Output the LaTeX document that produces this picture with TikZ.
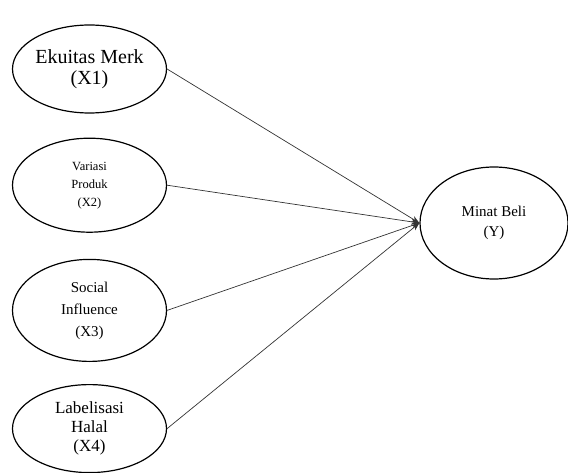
\documentclass[tikz,border=0pt]{standalone}
\usepackage{fontspec}
\setmainfont{Liberation Serif}
\usepackage{tikz}
\usetikzlibrary{shapes.geometric, positioning, arrows.meta}
\tikzset{
	->,
	>={Stealth[length=8pt, width=6pt]},
	node distance=25pt,
	align=center,
	every edge/.style={draw, line width=0.7pt, black!80},
	variabel/.style={ellipse, draw, line width=1.2pt, minimum width=154pt, minimum height=88pt, inner sep=0pt}
}

\begin{document}
\begin{tikzpicture}[x=1pt, y=1pt]
	\useasboundingbox (0,0) rectangle (568,472);
	\node[variabel, font=\fontsize{20}{21}\selectfont] (x1) at (89.5,403) {Ekuitas Merk\\(X1)};
	\node[variabel, below=24pt of x1, minimum height=94pt, font=\fontsize{12.5}{18}\selectfont] (x2) {Variasi\\Produk\\(X2)};
	\node[variabel, below=26pt of x2, minimum height=102pt, font=\fontsize{15}{22}\selectfont] (x3) {Social\\Influence\\(X3)};
	\node[variabel, below=22pt of x3, font=\fontsize{17}{19}\selectfont] (x4) {Labelisasi\\Halal\\(X4)};
	\node[variabel, minimum width=148pt, minimum height=112pt, font=\fontsize{15}{20}\selectfont] (y) at (494,249) {Minat Beli\\(Y)};
	\path
%	pengaruh ke minat beli
	(x1.east) edge (y.west)
	(x2.east) edge (y.west)
	(x3.east) edge (y.west)
	(x4.east) edge (y.west)
	;
\end{tikzpicture}
\end{document}
